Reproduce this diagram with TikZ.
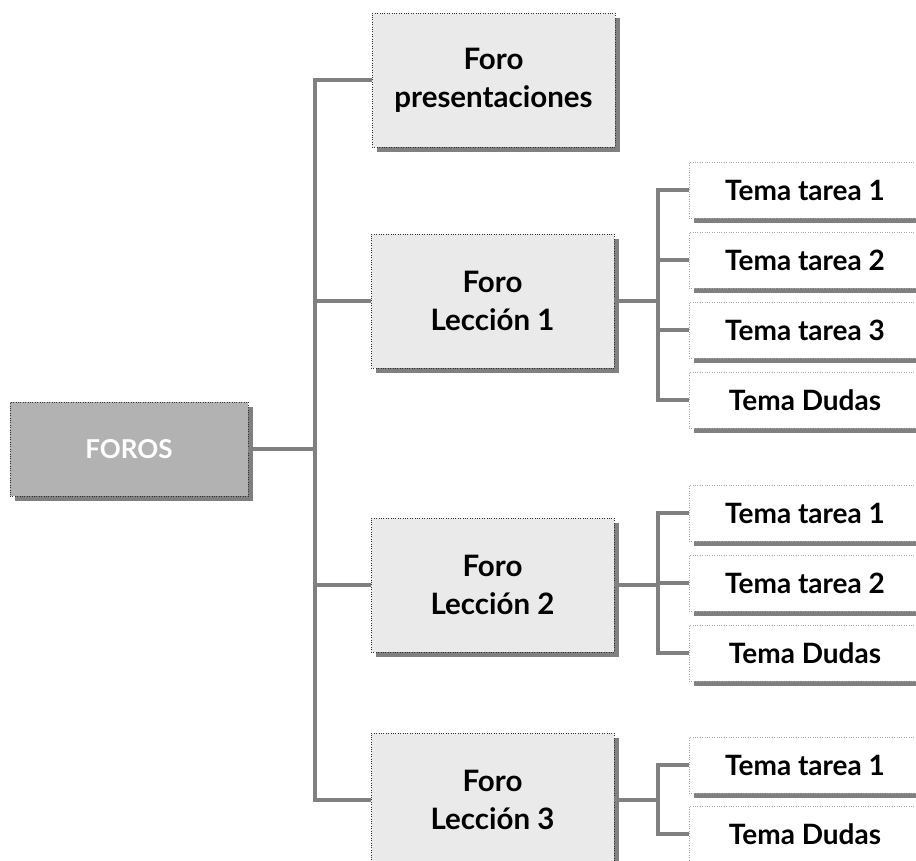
\documentclass[tikz,border=0pt]{standalone}
\usepackage{fontspec}
\setmainfont{Lato}
\usetikzlibrary{shadows}
\definecolor{linegray}{HTML}{808080}
\definecolor{boxgray}{HTML}{EAEAEA}
\definecolor{rootgray}{HTML}{B2B2B2}
\tikzset{
	link/.style = {draw = linegray, line width = 3.8pt},
	boxshadow/.style = {drop shadow = {shadow xshift = 5pt, shadow yshift = -5pt, opacity = 1, fill = linegray}},
	root/.style = {boxshadow, draw = black!80, dotted, fill = rootgray, text = white, minimum width = 238pt, minimum height = 94pt, inner sep = 0pt, font = \bfseries\fontsize{26}{30}\selectfont},
	forum/.style = {boxshadow, draw = black!80, dotted, fill = boxgray, minimum width = 243pt, minimum height = 134pt, inner sep = 0pt, align = center, font = \bfseries\fontsize{29.5}{38}\selectfont},
	topic/.style = {boxshadow, draw = black!35, dotted, fill = white, minimum width = 232pt, minimum height = 56pt, inner sep = 0pt, font = \bfseries\fontsize{28}{30}\selectfont}
}
\begin{document}
\begin{tikzpicture}[x = 1pt, y = -1pt]
	
	\clip (0, 0) rectangle (916, 861);
	
	\node[root] (foros) at (129, 449) {FOROS};
	
	\node[forum] (pres) at (493.5, 80) {Foro\\presentaciones};
	\node[forum] (lec1) at (492.5, 301) {Foro\\Lección 1};
	\node[forum] (lec2) at (492.5, 585) {Foro\\Lección 2};
	\node[forum] (lec3) at (492.5, 800) {Foro\\Lección 3};
	
	\node[topic] (t11) at (805, 190) {Tema tarea 1};
	\node[topic] (t12) at (805, 260) {Tema tarea 2};
	\node[topic] (t13) at (805, 330) {Tema tarea 3};
	\node[topic] (t1d) at (805, 400) {Tema Dudas};
	
	\node[topic] (t21) at (805, 513) {Tema tarea 1};
	\node[topic] (t22) at (805, 583) {Tema tarea 2};
	\node[topic] (t2d) at (805, 653) {Tema Dudas};
	
	\node[topic] (t31) at (805, 765) {Tema tarea 1};
	\node[topic] (t3d) at (805, 834) {Tema Dudas};
	
	% trunk
	\coordinate (trunk) at (315, 449);
	\draw[link] (foros) -- (trunk);
	\foreach \f in {pres, lec1, lec2, lec3}
		\draw[link] (trunk) |- (\f);
	
	% branches to the topics
	\path (lec1.east) ++(44, 0) coordinate (j1);
	\path (lec2.east) ++(44, 0) coordinate (j2);
	\path (lec3.east) ++(44, 0) coordinate (j3);
	\draw[link] (lec1) -- (j1);
	\draw[link] (lec2) -- (j2);
	\draw[link] (lec3) -- (j3);
	\foreach \t in {t11, t12, t13, t1d}
		\draw[link] (j1) |- (\t);
	\foreach \t in {t21, t22, t2d}
		\draw[link] (j2) |- (\t);
	\foreach \t in {t31, t3d}
		\draw[link] (j3) |- (\t);
	
\end{tikzpicture}
\end{document}
